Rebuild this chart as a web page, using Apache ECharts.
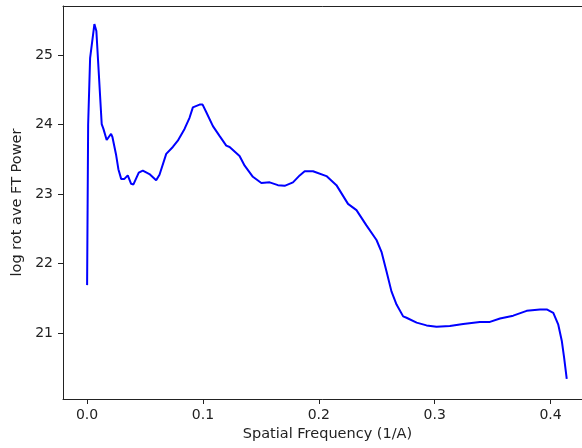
<!DOCTYPE html>
<html lang="en">
<head>
  <meta charset="UTF-8">
  <title>rot ave power</title>
  <script src="https://cdn.jsdelivr.net/npm/echarts@6/dist/echarts.min.js"></script>
</head>
<body style="margin:0">
  <div id="main" style="width:582px;height:448px"></div>
  <script>
    // values
    var freq = [0, 0.0009, 0.0026, 0.0063, 0.008, 0.0126, 0.0141, 0.0169, 0.0207, 0.0219, 0.0251, 0.027, 0.0294,
      0.0322, 0.0351, 0.038, 0.040, 0.0446, 0.0481, 0.0538, 0.0596, 0.0625, 0.0683, 0.074, 0.0783, 0.0841,
      0.0884, 0.0913, 0.0971, 0.0997, 0.1029, 0.1086, 0.1143, 0.1201, 0.1230, 0.1316, 0.136, 0.1431, 0.1504,
      0.1576, 0.1647, 0.1705, 0.1777, 0.1835, 0.1878, 0.195, 0.2066, 0.2152, 0.2252, 0.2325, 0.2411, 0.2498,
      0.2541, 0.2584, 0.2627, 0.2671, 0.2728, 0.2757, 0.2844, 0.293, 0.3016, 0.3131, 0.3246, 0.339, 0.3477,
      0.3564, 0.3678, 0.3794, 0.3909, 0.3967, 0.4024, 0.4067, 0.4097, 0.4117, 0.414]
    var power = [21.69, 24.0, 24.96, 25.45, 25.35, 24.01, 23.94, 23.78, 23.87, 23.82, 23.56, 23.36, 23.22,
      23.22, 23.27, 23.15, 23.14, 23.31, 23.34, 23.29, 23.20, 23.28, 23.58, 23.68, 23.77, 23.94,
      24.10, 24.25, 24.29, 24.29, 24.18, 23.98, 23.84, 23.70, 23.68, 23.55, 23.41, 23.25, 23.16,
      23.17, 23.13, 23.12, 23.17, 23.27, 23.33, 23.33, 23.26, 23.13, 22.86, 22.77, 22.55, 22.34,
      22.17, 21.89, 21.60, 21.41, 21.24, 21.22, 21.15, 21.11, 21.09, 21.10, 21.13, 21.16, 21.16,
      21.21, 21.25, 21.32, 21.34, 21.34, 21.29, 21.12, 20.89, 20.65, 20.34]
    var xTicks = [0, 0.1, 0.2, 0.3, 0.4]
    var yTicks = [21, 22, 23, 24, 25]

    var pts = freq.map(function (f, i) { return [f, power[i]] })
    var tickTxt = { color: '#222', fontFamily: 'DejaVu Sans', fontSize: 14 }
    var nameTxt = { color: '#222', fontFamily: 'DejaVu Sans', fontSize: 14.5 }
    var spine = { color: '#222', width: 1 }

    var chart = echarts.init(document.getElementById('main'))
    chart.setOption({
      animation: false,
      grid: { left: 63, top: 6, width: 529, height: 393, containLabel: false, outerBoundsMode: 'none' },
      xAxis: [{
        type: 'value', min: -0.0208, max: 0.4358,
        name: 'Spatial Frequency (1/A)', nameLocation: 'middle', nameGap: 27,
        nameTextStyle: nameTxt,
        splitLine: { show: false },
        axisLine: { onZero: false, lineStyle: spine },
        axisTick: { show: true, length: 5, customValues: xTicks, lineStyle: { color: '#222' } },
        axisLabel: Object.assign({ customValues: xTicks, margin: 9,
          formatter: function (v) { return v.toFixed(1) } }, tickTxt)
      }, {
        // top spine only
        type: 'value', position: 'top', min: -0.0208, max: 0.4358,
        splitLine: { show: false }, axisTick: { show: false }, axisLabel: { show: false },
        axisLine: { show: true, onZero: false, lineStyle: spine }
      }],
      yAxis: {
        type: 'value', min: 20.05, max: 25.71,
        name: 'log rot ave FT Power', nameLocation: 'middle', nameGap: 36,
        nameTextStyle: nameTxt,
        splitLine: { show: false },
        axisLine: { show: true, onZero: false, lineStyle: spine },
        axisTick: { show: true, length: 5, customValues: yTicks, lineStyle: { color: '#222' } },
        axisLabel: Object.assign({ customValues: yTicks, margin: 10,
          formatter: function (v) { return String(v) } }, tickTxt)
      },
      series: [{
        type: 'line', data: pts, showSymbol: false, smooth: false,
        lineStyle: { color: '#0000ff', width: 2 }
      }]
    })
  </script>
</body>
</html>
